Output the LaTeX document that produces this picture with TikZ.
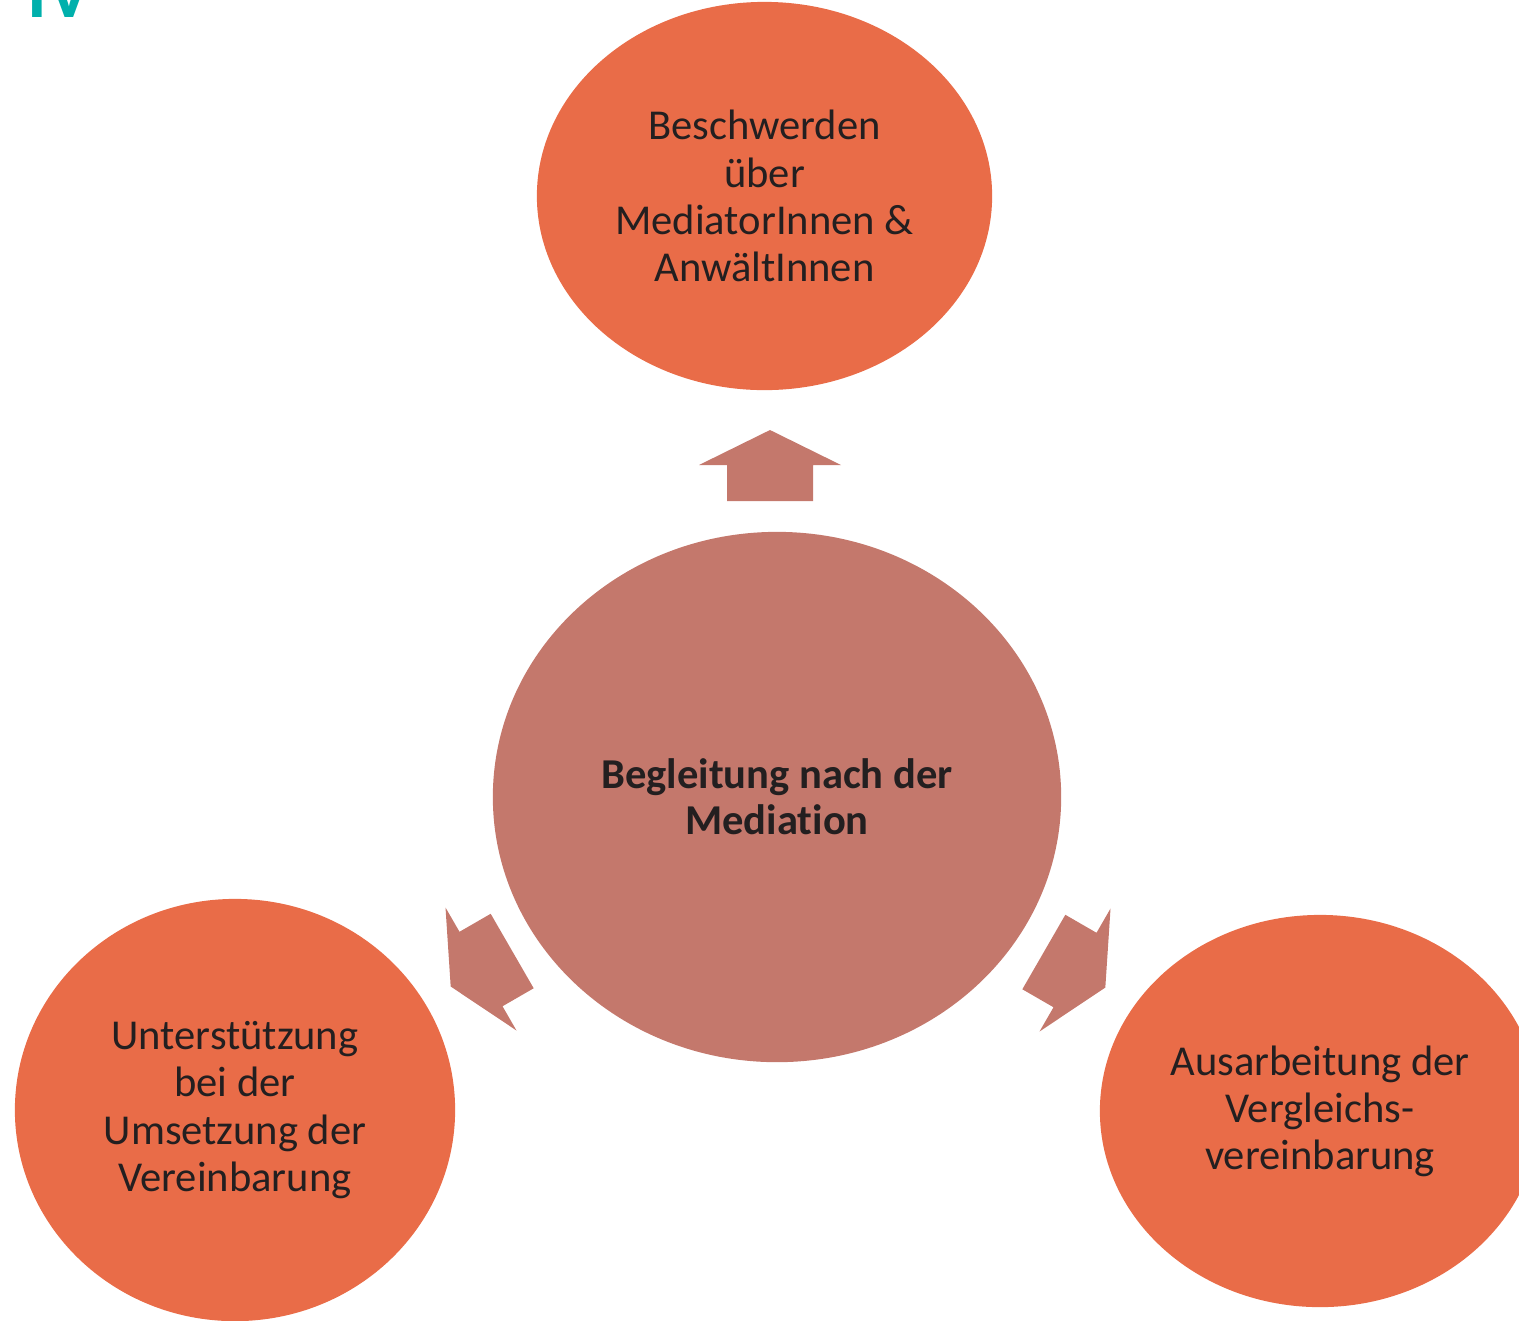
\documentclass[tikz,border=0pt]{standalone}
\usepackage{fontspec}
\setmainfont{Carlito}[Ligatures=NoCommon]
\usetikzlibrary{shapes.geometric}
\definecolor{medorange}{RGB}{233,108,72}
\definecolor{medrose}{RGB}{196,120,108}
\definecolor{medteal}{RGB}{0,176,172}
\definecolor{medtext}{RGB}{35,31,32}

\begin{document}
\begin{tikzpicture}[x=0.01cm,y=-0.01cm,
  bubble/.style={ellipse,fill=medorange,inner sep=0pt,align=center,text=medtext,font=\fontsize{12.1}{13.4}\selectfont},
  hub/.style={ellipse,fill=medrose,inner sep=0pt,align=center,text=medtext,font=\bfseries\fontsize{12.1}{13.1}\selectfont,minimum width=5.68cm,minimum height=5.30cm},
  blockarrow/.style={fill=medrose}
]
  \useasboundingbox (0,0) rectangle (1519,1320);
  \clip (0,0) rectangle (1519,1320);

  % heading cut off at the top edge
  \node[anchor=base west,inner sep=0pt,text=medteal,font=\bfseries\fontsize{21}{21}\selectfont] (heading) at (27,17) {IV};

  \node[hub] (hub) at (777,797) {Begleitung nach der\\ Mediation};

  \node[bubble,minimum width=4.55cm,minimum height=3.88cm] (complaints) at (764.5,196)
    {Beschwerden\\ über\\ MediatorInnen \&\\ AnwältInnen};
  \node[bubble,minimum width=4.40cm,minimum height=4.22cm] (support) at (235,1110)
    {Unterstützung\\ bei der\\ Umsetzung der\\ Vereinbarung};
  \node[bubble,minimum width=4.40cm,minimum height=3.92cm] (drafting) at (1320,1111)
    {Ausarbeitung der\\ Vergleichs-\\ vereinbarung};

  % block arrows from the hub outwards
  \foreach \ax/\ay/\ang in {770/465/90, 481/969/210, 1075/970/-30}
    \fill[blockarrow,shift={(\ax,\ay)},rotate=\ang]
      (-36,-43) -- (0,-43) -- (0,-71) -- (35,0) -- (0,71) -- (0,43) -- (-36,43) -- cycle;
\end{tikzpicture}
\end{document}
